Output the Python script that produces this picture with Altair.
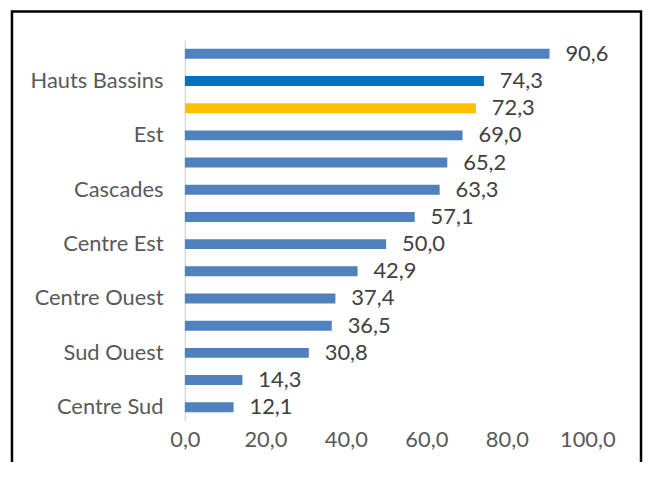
import altair as alt
import pandas as pd

regions = ["Centre", "Hauts Bassins", "Burkina Faso", "Est", "Nord", "Cascades",
           "Boucle du Mouhoun", "Centre Est", "Plateau Central", "Centre Ouest",
           "Centre Nord", "Sud Ouest", "Sahel", "Centre Sud"]
values = [90.6, 74.3, 72.3, 69.0, 65.2, 63.3, 57.1, 50.0, 42.9, 37.4, 36.5, 30.8, 14.3, 12.1]
bar_colors = ["#4F81BD", "#0070C0", "#FFC000", "#4F81BD", "#4F81BD", "#4F81BD", "#4F81BD",
              "#4F81BD", "#4F81BD", "#4F81BD", "#4F81BD", "#4F81BD", "#4F81BD", "#4F81BD"]
shown_labels = ["Hauts Bassins", "Est", "Cascades", "Centre Est", "Centre Ouest",
                "Sud Ouest", "Centre Sud"]
x_ticks = [0, 20, 40, 60, 80, 100]

df = pd.DataFrame({"region": regions, "value": values})
FONT = "Lato"

label_expr = "indexof([" + ",".join("'" + s + "'" for s in shown_labels) + "], datum.value) >= 0 ? datum.value : ''"

base = alt.Chart(df)

bars = base.mark_bar(size=10).encode(
    y=alt.Y("region:N", sort=None, title=None,
            scale=alt.Scale(paddingInner=0.63, paddingOuter=0.315),
            axis=alt.Axis(labelExpr=label_expr, ticks=False, domainColor="#D9D9D9",
                          domainWidth=1.5, labelColor="#595959", labelFont=FONT,
                          labelFontSize=22, labelPadding=22, grid=False)),
    x=alt.X("value:Q", title=None, scale=alt.Scale(domain=[0, 100], nice=False),
            axis=alt.Axis(values=x_ticks, labelExpr="replace(format(datum.value, '.1f'), '.', ',')",
                          domain=False, ticks=False, grid=False, labelColor="#595959",
                          labelFlush=False, labelOverlap=False,
                          labelFont=FONT, labelFontSize=22, labelPadding=9)),
    color=alt.Color("region:N", scale=alt.Scale(domain=regions, range=bar_colors), legend=None),
)

text = base.mark_text(align="left", baseline="middle", dx=16, font=FONT, fontSize=22,
                      color="#404040").encode(
    y=alt.Y("region:N", sort=None),
    x="value:Q",
    text=alt.Text("label:N"),
).transform_calculate(label="replace(format(datum.value, '.1f'), '.', ',')")

border = alt.Chart(pd.DataFrame({"a": [0]})).mark_rect(
    fill=None, stroke="black", strokeWidth=2.5
).encode(x=alt.value(-174), x2=alt.value(459), y=alt.value(-29), y2=alt.value(480))

chart = alt.layer(border, bars, text).properties(
    width=405, height=383,
    autosize=alt.AutoSizeParams(type="none"),
    padding={"left": 178, "top": 31, "right": 57, "bottom": 40},
).configure_view(stroke=None)

chart.save("out.html", embed_options={"renderer": "svg", "actions": False})
